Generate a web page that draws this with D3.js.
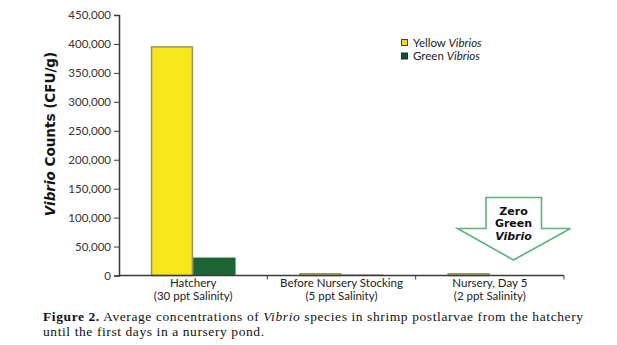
<!DOCTYPE html>
<html>
<head>
<meta charset="utf-8">
<script src="https://cdn.jsdelivr.net/npm/d3@7"></script>
<style>
  html, body { margin: 0; padding: 0; background: #fff; }
  svg { display: block; }
</style>
</head>
<body>
<svg id="chart" width="617" height="345"></svg>
<script>
// Sampling points and their salinity
const categories = ["Hatchery", "Before Nursery Stocking", "Nursery, Day 5"];
const salinity = ["(30 ppt Salinity)", "(5 ppt Salinity)", "(2 ppt Salinity)"];

// Average Vibrio counts (CFU/g)
const seriesKeys = ["yellow", "green"];
const yellowVibrios = [395000, 3000, 3000];
const greenVibrios = [31000, 1500, 0];

const yTicks = [0, 50000, 100000, 150000, 200000, 250000, 300000, 350000, 400000, 450000];

const colors = { yellow: "#f5e71c", green: "#1e6535" };
const strokes = { yellow: "#9a9164", green: "#1e5a32" };

const svg = d3.select("#chart");
const plot = { left: 119, right: 564, top: 15, bottom: 275.5 };

const x = d3.scaleBand().domain(categories).range([plot.left, plot.right]).padding(0);
const xSub = d3.scaleBand().domain(seriesKeys).range([0, x.bandwidth()])
  .paddingInner(0).paddingOuter(0.75);
const y = d3.scaleLinear().domain([0, 450000]).range([plot.bottom, plot.top]);

const rows = categories.map((c, i) => ({ cat: c, yellow: yellowVibrios[i], green: greenVibrios[i] }));

// Bars
const groups = svg.append("g").selectAll("g").data(rows).join("g")
  .attr("transform", d => `translate(${x(d.cat)},0)`);
groups.selectAll("rect")
  .data(d => seriesKeys.map(k => ({ key: k, value: d[k] })).filter(v => v.value > 0))
  .join("rect")
  .attr("x", d => xSub(d.key) + (d.key === "yellow" ? 0.75 : 0))
  .attr("width", d => xSub.bandwidth() - (d.key === "yellow" ? 1.5 : 0))
  .attr("y", d => y(d.value))
  .attr("height", d => y(0) - y(d.value))
  .attr("fill", d => colors[d.key])
  .attr("stroke", d => d.key === "yellow" ? strokes.yellow : "none")
  .attr("stroke-width", 1.5);

// Y axis
const yAxis = d3.axisLeft(y).tickValues(yTicks).tickSize(5).tickPadding(3)
  .tickFormat(d3.format(","));
const gy = svg.append("g").attr("transform", `translate(${plot.left},0)`).call(yAxis);
gy.select(".domain").attr("stroke", "#3a3a3a").attr("stroke-width", 1.5);
gy.selectAll(".tick line").attr("stroke", "#3a3a3a").attr("stroke-width", 1);
gy.selectAll(".tick text").attr("font-family", "Lato, sans-serif").attr("font-size", 11.5)
  .attr("fill", "#333");

// X axis with ticks at the category boundaries
const gx = svg.append("g");
gx.append("line").attr("x1", plot.left).attr("x2", plot.right)
  .attr("y1", y(0)).attr("y2", y(0)).attr("stroke", "#3a3a3a").attr("stroke-width", 1.5);
gx.selectAll("line.tick").data(categories).join("line").attr("class", "tick")
  .attr("x1", d => x(d) + x.bandwidth()).attr("x2", d => x(d) + x.bandwidth())
  .attr("y1", y(0)).attr("y2", y(0) + 4).attr("stroke", "#3a3a3a").attr("stroke-width", 1);

// Category labels: name on the first line, salinity on the second
const labelStyle = sel => sel.attr("font-family", "Lato, sans-serif").attr("font-size", 11.5)
  .attr("fill", "#222").attr("text-anchor", "middle");
gx.selectAll("text.cat").data(categories).join("text").attr("class", "cat")
  .call(labelStyle)
  .attr("x", d => x(d) + x.bandwidth() / 2).attr("y", 286.5).text(d => d);
gx.selectAll("text.sal").data(categories).join("text").attr("class", "sal")
  .call(labelStyle)
  .attr("x", d => x(d) + x.bandwidth() / 2).attr("y", 299.5).text((d, i) => salinity[i]);

// Y axis title
const yt = svg.append("text").attr("transform", "translate(55,134) rotate(-90)")
  .attr("text-anchor", "middle").attr("font-family", "'DejaVu Sans', Verdana, sans-serif")
  .attr("font-weight", "bold").attr("font-size", 13.5).attr("fill", "#111");
yt.append("tspan").attr("font-style", "italic").text("Vibrio");
yt.append("tspan").text(" Counts (CFU/g)");

// Legend
const legend = svg.append("g");
const legendItems = [
  { key: "yellow", label: "Yellow ", fill: "#e8dc1c", stroke: "#4a4520" },
  { key: "green", label: "Green ", fill: "#1e4f34", stroke: "#1a3326" }
];
legendItems.forEach((it, i) => {
  const cy = 42.5 + i * 13.5;
  legend.append("rect").attr("x", 401.5).attr("y", cy - 3).attr("width", 6).attr("height", 6)
    .attr("fill", it.fill).attr("stroke", it.stroke).attr("stroke-width", 1);
  const t = legend.append("text").attr("x", 413).attr("y", cy + 4)
    .attr("font-family", "Lato, sans-serif").attr("font-size", 11.5).attr("fill", "#222");
  t.append("tspan").text(it.label);
  t.append("tspan").attr("font-style", "italic").text("Vibrios");
});

// Callout arrow for the nursery pond
const arrowPts = [[486, 197.5], [541.5, 197.5], [541.5, 228.5], [570.5, 228.5],
  [513.5, 260], [457.5, 228.5], [486, 228.5]];
svg.append("polygon").attr("points", arrowPts.map(p => p.join(",")).join(" "))
  .attr("fill", "#fff").attr("stroke", "#5bb37a").attr("stroke-width", 1.6);
const arrowText = ["Zero", "Green", "Vibrio"];
svg.append("g").selectAll("text").data(arrowText).join("text")
  .attr("x", 513.5).attr("y", (d, i) => 214.5 + i * 12.5)
  .attr("text-anchor", "middle").attr("font-family", "'DejaVu Sans', Verdana, sans-serif")
  .attr("font-weight", "bold").attr("font-size", 11)
  .attr("font-style", (d, i) => i === 2 ? "italic" : "normal").attr("fill", "#111")
  .text(d => d);

// Caption
const cap = svg.append("g").attr("font-family", "'Liberation Serif', 'Times New Roman', serif")
  .attr("font-size", 13.5).attr("fill", "#111");
const c1 = cap.append("text").attr("x", 43).attr("y", 321)
  .attr("textLength", 540).attr("lengthAdjust", "spacing");
c1.append("tspan").attr("font-weight", "bold").text("Figure 2.");
c1.append("tspan").text(" Average concentrations of ");
c1.append("tspan").attr("font-style", "italic").text("Vibrio");
c1.append("tspan").text(" species in shrimp postlarvae from the hatchery");
cap.append("text").attr("x", 43).attr("y", 336)
  .attr("textLength", 221).attr("lengthAdjust", "spacing")
  .text("until the first days in a nursery pond.");
</script>
</body>
</html>
